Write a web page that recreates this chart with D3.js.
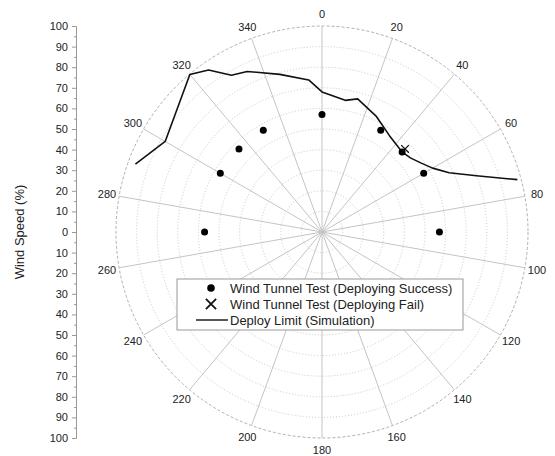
<!DOCTYPE html>
<html>
<head>
<meta charset="utf-8">
<script src="https://cdn.jsdelivr.net/npm/d3@7"></script>
<style>
  body { margin: 0; background: #fff; }
  svg { display: block; font-family: "Liberation Sans", Arial, sans-serif; }
</style>
</head>
<body>
<svg id="chart" width="555" height="456"></svg>
<script>
// angular grid + labels (degrees, clockwise from north)
const angleTicks = [0, 20, 40, 60, 80, 100, 120, 140, 160, 180, 200, 220, 240, 260, 280, 300, 320, 340];
const radialTicks = [10, 20, 30, 40, 50, 60, 70, 80, 90, 100];
const axisTicks = [-100, -90, -80, -70, -60, -50, -40, -30, -20, -10, 0, 10, 20, 30, 40, 50, 60, 70, 80, 90, 100];

// Wind Tunnel Test (Deploying Success)
const successAngle = [270, 300, 315, 330, 0, 30, 45, 60, 90];
const successSpeed = [57, 57, 57, 57, 57, 57, 55, 57, 57];

// Wind Tunnel Test (Deploying Fail)
const failAngle = [45];
const failSpeed = [57];

// Deploy Limit (Simulation)
const limitAngle = [290, 300, 320, 325, 330, 335, 345, 355, 0, 10, 15, 25, 35, 45, 50, 55, 60, 65, 70, 75];
const limitSpeed = [96.4, 87.9, 99.8, 96, 87.9, 86, 79.2, 74.1, 68, 64.9, 66.9, 62.1, 57.1, 55, 56, 58.5, 62, 68.1, 79.8, 98.2];

const CX = 322, CY = 232, R = 206;

const svg = d3.select('#chart');
const r = d3.scaleLinear().domain([0, 100]).range([0, R]);
const a = d3.scaleLinear().domain([0, 360]).range([0, 2 * Math.PI]);
const px = (deg, v) => CX + r(v) * Math.sin(a(deg));
const py = (deg, v) => CY - r(v) * Math.cos(a(deg));

const polar = svg.append('g');

// dotted rings
polar.selectAll('circle.ring')
  .data(radialTicks)
  .enter()
.append('circle')
  .attr('class', 'ring')
  .attr('cx', CX)
  .attr('cy', CY)
  .attr('r', d => r(d))
  .attr('fill', 'none')
  .attr('stroke', d => d === 100 ? '#b0b0b0' : '#c8c8c8')
  .attr('stroke-width', 1)
  .attr('stroke-dasharray', d => d === 100 ? '3,2' : '1,2');

// spokes
polar.selectAll('line.spoke')
  .data(angleTicks)
  .enter()
.append('line')
  .attr('class', 'spoke')
  .attr('x1', CX)
  .attr('y1', CY)
  .attr('x2', d => px(d, 100))
  .attr('y2', d => py(d, 100))
  .attr('stroke', '#c4c4c4')
  .attr('stroke-width', 1);

// angle labels
polar.selectAll('text.alabel')
  .data(angleTicks)
  .enter()
.append('text')
  .attr('class', 'alabel')
  .attr('x', d => px(d, 106))
  .attr('y', d => py(d, 106))
  .attr('text-anchor', 'middle')
  .attr('dominant-baseline', 'central')
  .attr('font-size', 11)
  .attr('fill', '#222')
  .text(d => d);

// left linear axis, mirrored around 0
const y = d3.scaleLinear().domain([-100, 100]).range([CY + R, CY - R]);
svg.append('g')
  .attr('transform', 'translate(76,0)')
  .call(d3.axisLeft(y).tickValues(d3.range(-95, 100, 10)).tickSize(2).tickFormat(''))
  .call(g => g.select('.domain').remove())
  .call(g => g.selectAll('line').attr('stroke', '#999'));
const yAxis = svg.append('g')
  .attr('transform', 'translate(76,0)')
  .call(d3.axisLeft(y).tickValues(axisTicks).tickSize(4).tickPadding(4).tickFormat(d => Math.abs(d)));
yAxis.select('.domain').attr('stroke', '#999');
yAxis.selectAll('line').attr('stroke', '#999');
yAxis.selectAll('text')
  .attr('font-size', 11)
  .attr('font-family', '"Liberation Sans", Arial, sans-serif')
  .attr('fill', '#222');

svg.append('text')
  .attr('transform', `translate(19,${CY}) rotate(-90)`)
  .attr('text-anchor', 'middle')
  .attr('dominant-baseline', 'central')
  .attr('font-size', 13)
  .attr('fill', '#222')
  .text('Wind Speed (%)');

// simulation limit line
const limitLine = d3.line()
  .x(i => px(limitAngle[i], limitSpeed[i]))
  .y(i => py(limitAngle[i], limitSpeed[i]));
svg.append('path')
  .attr('d', limitLine(d3.range(limitAngle.length)))
  .attr('fill', 'none')
  .attr('stroke', '#111')
  .attr('stroke-width', 1.6)
  .attr('stroke-linejoin', 'round');

// success dots
svg.selectAll('circle.success')
  .data(successAngle)
  .enter()
.append('circle')
  .attr('class', 'success')
  .attr('cx', (d, i) => px(d, successSpeed[i]))
  .attr('cy', (d, i) => py(d, successSpeed[i]))
  .attr('r', 3.5)
  .attr('fill', '#000');

// fail crosses
const cross = d3.symbol().type(d3.symbolTimes).size(40);
svg.selectAll('path.fail')
  .data(failAngle)
  .enter()
.append('path')
  .attr('class', 'fail')
  .attr('transform', (d, i) => `translate(${px(d, failSpeed[i])},${py(d, failSpeed[i])})`)
  .attr('d', cross)
  .attr('fill', 'none')
  .attr('stroke', '#111')
  .attr('stroke-width', 1.3);

// legend
const legend = svg.append('g').attr('transform', 'translate(177,279)');
legend.append('rect')
  .attr('width', 286)
  .attr('height', 51)
  .attr('fill', '#fff')
  .attr('stroke', '#999')
  .attr('stroke-width', 1);
legend.append('circle')
  .attr('cx', 34).attr('cy', 9).attr('r', 3.8).attr('fill', '#000');
legend.append('path')
  .attr('transform', 'translate(34,25)')
  .attr('d', d3.symbol().type(d3.symbolTimes).size(70))
  .attr('stroke', '#111').attr('stroke-width', 1.8).attr('fill', 'none');
legend.append('line')
  .attr('x1', 19).attr('x2', 51).attr('y1', 41).attr('y2', 41)
  .attr('stroke', '#111').attr('stroke-width', 1.4);
legend.selectAll('text.item')
  .data(['Wind Tunnel Test (Deploying Success)', 'Wind Tunnel Test (Deploying Fail)', 'Deploy Limit (Simulation)'])
  .enter()
.append('text')
  .attr('class', 'item')
  .attr('x', 53)
  .attr('y', (d, i) => 9 + i * 16)
  .attr('dominant-baseline', 'central')
  .attr('font-size', 13)
  .attr('fill', '#222')
  .text(d => d);
</script>
</body>
</html>
